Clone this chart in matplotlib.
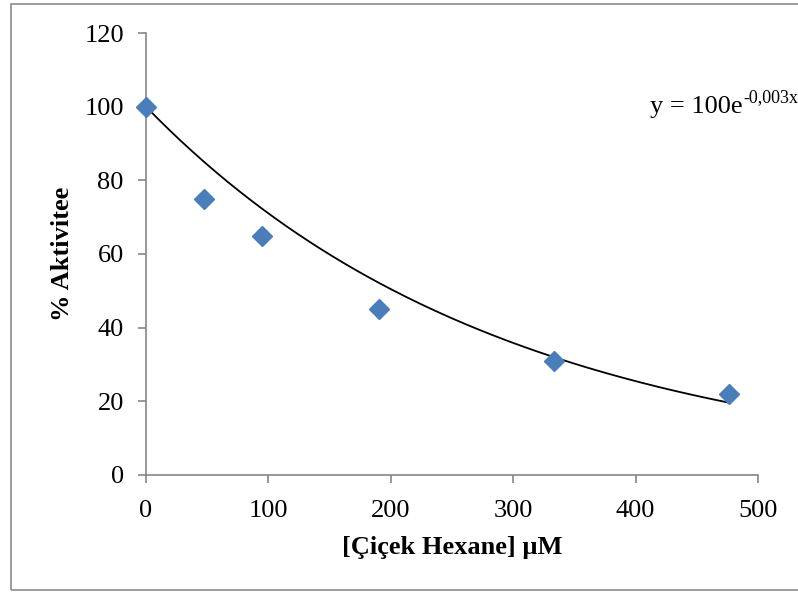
import matplotlib
matplotlib.use("Agg")
import matplotlib.pyplot as plt
from matplotlib.patches import Rectangle
import numpy as np

# data
concentration = [0, 47, 95, 190, 333, 476]      # [Çiçek Hexane] µM
activity = [100, 75, 65, 45, 31, 22]             # % Aktivitee
x_ticks = [0, 100, 200, 300, 400, 500]
y_ticks = [0, 20, 40, 60, 80, 100, 120]

plt.rcParams['font.family'] = ['Liberation Serif', 'DejaVu Serif']

# exponential trendline with intercept fixed at 100 (as in Excel)
x = np.array(concentration, dtype=float)
y = np.array(activity, dtype=float)
k = np.sum(x * np.log(y / 100.0)) / np.sum(x ** 2)
xs = np.linspace(x.min(), x.max(), 200)
ys = 100.0 * np.exp(k * xs)

fig = plt.figure(figsize=(7.98, 5.92), dpi=100)
ax = fig.add_axes([0.183, 0.198, 0.767, 0.746])

# outer chart border
fig.patches.append(Rectangle((11 / 798, 2 / 592), 1.0, 586 / 592, transform=fig.transFigure,
                             fill=False, edgecolor='#8c8c8c', linewidth=1.2))

ax.plot(xs, ys, color='black', linewidth=1.3, zorder=2)
ax.plot(concentration, activity, linestyle='none', marker='D', markersize=10.5,
        color='#4a7ebb', zorder=3, clip_on=False)

ax.set_xlim(0, 500)
ax.set_ylim(0, 120)
ax.set_xticks(x_ticks)
ax.set_yticks(y_ticks)

for s in ['top', 'right']:
    ax.spines[s].set_visible(False)
for s in ['left', 'bottom']:
    ax.spines[s].set_color('#868686')
    ax.spines[s].set_linewidth(1.2)
ax.tick_params(direction='out', length=6, width=1.2, color='#868686', labelsize=19)
ax.tick_params(axis='y', pad=10)
ax.tick_params(axis='x', pad=12)

ax.set_xlabel('[Çiçek Hexane] µM', fontsize=19, fontweight='bold', labelpad=10)
ax.set_ylabel('% Aktivitee', fontsize=19, fontweight='bold', labelpad=7)

t = ax.text(412, 100, 'y = 100e', fontsize=19, ha='left', va='center')
ax.annotate('-0,003x', xy=(1, 0.55), xycoords=t, fontsize=13, ha='left', va='bottom')

fig.savefig('out.png', dpi=100)
